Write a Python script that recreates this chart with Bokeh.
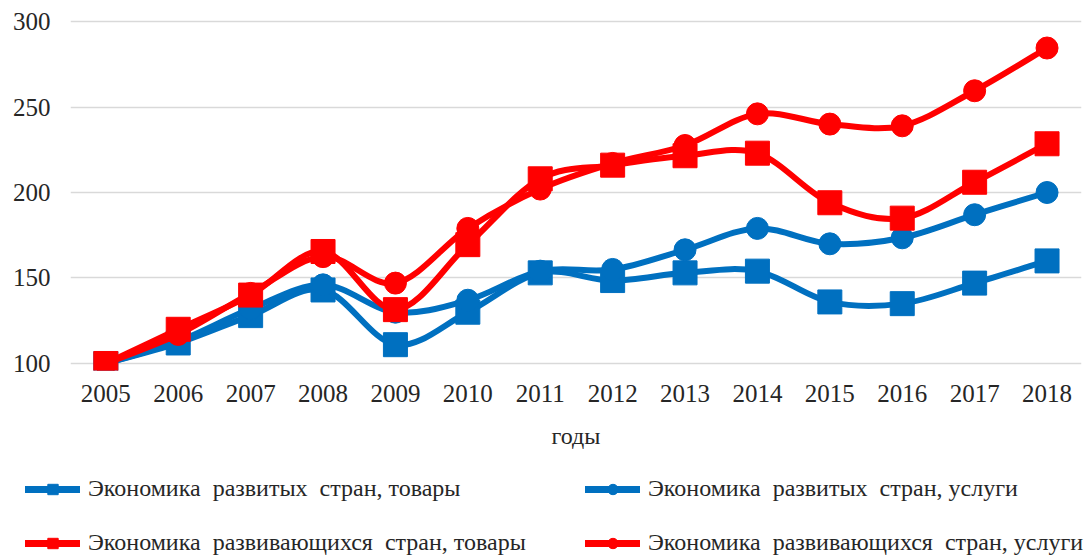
from bokeh.plotting import figure
from bokeh.models import Range1d, FixedTicker, Legend, LegendItem, ColumnDataSource
from bokeh.embed import file_html
from bokeh.resources import INLINE

years = [2005, 2006, 2007, 2008, 2009, 2010, 2011, 2012, 2013, 2014, 2015, 2016, 2017, 2018]
dev_goods = [100, 112, 128, 143, 111, 130, 153, 148.5, 153, 154, 136, 135, 147, 160]
dev_services = [100, 113, 132, 146, 130, 137, 154, 155, 166.5, 179, 170, 173.5, 187, 200]
devg_goods = [100, 120, 140, 165.5, 131.5, 169.5, 208, 216, 221.5, 223, 194, 185, 206, 228.5]
devg_services = [100, 117, 141, 162.5, 147, 179, 202, 217, 227.5, 246, 240, 239, 259.5, 284.5]

labels = [
    "Экономика  развитых  стран, товары",
    "Экономика  развитых  стран, услуги",
    "Экономика  развивающихся  стран, товары",
    "Экономика  развивающихся  стран, услуги",
]
y_ticks = [100, 150, 200, 250, 300]
x_label = "годы"

BLUE = "#0070C0"
RED = "#FF0000"
FONT = "Liberation Serif"
TXT = "#262626"

W = 1084
p = figure(width=W, height=462, output_backend="svg", toolbar_location=None,
           title=None, x_range=Range1d(2004.512, 2018.476), y_range=Range1d(95.9, 304.1),
           min_border_left=70, min_border_right=3, min_border_top=14, min_border_bottom=92)
p.outline_line_color = None
p.background_fill_color = "white"
p.border_fill_color = "white"

p.xgrid.grid_line_color = None
p.ygrid.grid_line_color = "#d9d9d9"
p.ygrid.grid_line_width = 1.5
p.ygrid.ticker = FixedTicker(ticks=y_ticks)

for ax in (p.xaxis[0], p.yaxis[0]):
    ax.axis_line_color = None
    ax.major_tick_line_color = None
    ax.minor_tick_line_color = None
    ax.major_label_text_font = FONT
    ax.major_label_text_font_size = "25px"
    ax.major_label_text_color = TXT

p.xaxis.ticker = FixedTicker(ticks=years)
p.yaxis.ticker = FixedTicker(ticks=y_ticks)
p.xaxis.major_label_standoff = 8
p.yaxis.major_label_standoff = 14
p.xaxis.axis_label = x_label
p.xaxis.axis_label_text_font = FONT
p.xaxis.axis_label_text_font_size = "24px"
p.xaxis.axis_label_text_font_style = "normal"
p.xaxis.axis_label_text_color = TXT
p.xaxis.axis_label_standoff = 18


def smooth_segments(xs, ys):
    n = len(xs)
    d = dict(x0=[], y0=[], x1=[], y1=[], cx0=[], cy0=[], cx1=[], cy1=[])
    for i in range(n - 1):
        a = max(i - 1, 0)
        b = min(i + 2, n - 1)
        d["x0"].append(xs[i]); d["y0"].append(ys[i])
        d["x1"].append(xs[i + 1]); d["y1"].append(ys[i + 1])
        d["cx0"].append(xs[i] + (xs[i + 1] - xs[a]) / 6.0)
        d["cy0"].append(ys[i] + (ys[i + 1] - ys[a]) / 6.0)
        d["cx1"].append(xs[i + 1] - (xs[b] - xs[i]) / 6.0)
        d["cy1"].append(ys[i + 1] - (ys[b] - ys[i]) / 6.0)
    return ColumnDataSource(d)


series = [
    (dev_goods, BLUE, "square", 24),
    (dev_services, BLUE, "circle", 22),
    (devg_goods, RED, "square", 24),
    (devg_services, RED, "circle", 22),
]

for vals, color, marker, size in series:
    src = smooth_segments(years, vals)
    p.bezier(x0="x0", y0="y0", x1="x1", y1="y1", cx0="cx0", cy0="cy0",
             cx1="cx1", cy1="cy1", source=src, line_color=color, line_width=6,
             line_cap="round", line_join="round")
    p.scatter(years, vals, marker=marker, size=size, fill_color=color,
              line_color=color, line_width=1)

# legend strip (same series, ranges set so only the legend is visible)
q = figure(width=W, height=93, output_backend="svg", toolbar_location=None,
           title=None, x_range=Range1d(0, 1), y_range=Range1d(0, 1),
           x_axis_location=None, y_axis_location=None,
           min_border_left=0, min_border_right=0, min_border_top=0, min_border_bottom=0)
q.outline_line_color = None
q.grid.visible = False
q.border_fill_color = "white"

items = []
for (vals, color, marker, size), lab in zip(series, labels):
    lr = q.line(years, vals, line_color=color, line_width=7, line_cap="round")
    sr = q.scatter(years, vals, marker=marker, size=size, fill_color=color, line_color=color)
    items.append(LegendItem(label=lab, renderers=[lr, sr]))


def make_legend(its, x):
    return Legend(items=its, location=(x, -1), orientation="vertical",
                  glyph_width=55, glyph_height=26, label_height=26,
                  label_standoff=8, spacing=27, padding=0, margin=0,
                  label_text_font=FONT, label_text_font_size="24px",
                  label_text_color=TXT, border_line_color=None,
                  background_fill_alpha=0)


q.add_layout(make_legend([items[0], items[2]], 25), "center")
q.add_layout(make_legend([items[1], items[3]], 585), "center")

open("out.html", "w").write(file_html([p, q], INLINE))
